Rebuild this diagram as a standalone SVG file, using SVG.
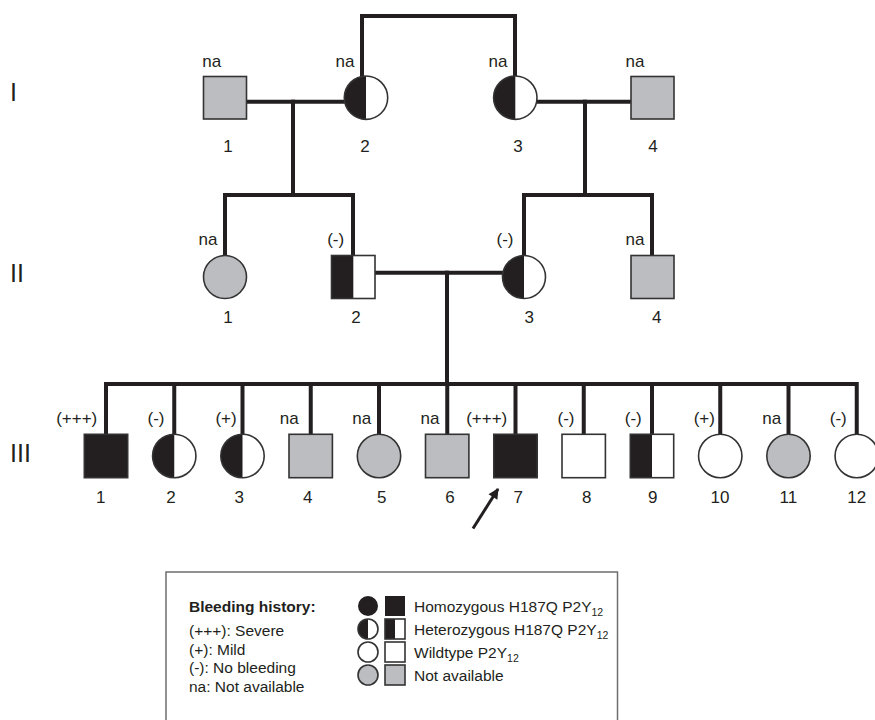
<svg xmlns="http://www.w3.org/2000/svg" width="875" height="720" viewBox="0 0 875 720">
<defs>
<style>
text{font-family:"Liberation Sans",Arial,Helvetica,sans-serif;fill:#231f20}
.lbl{font-size:17px;text-anchor:middle}
.gen{font-size:25px}
.leg{font-size:15.5px}
.b{font-weight:bold}
.ln{fill:none;stroke:#231f20;stroke-width:4;stroke-linecap:square}
.sh{stroke:#333;stroke-width:1.6}
.gray{fill:#bcbdc0}
.white{fill:#fff}
.black{fill:#231f20}
.half{fill:#231f20;stroke:none}
.out{fill:none;stroke:#333;stroke-width:1.6}
</style>
<marker id="ah" viewBox="0 0 10 10" refX="9" refY="5" markerWidth="4" markerHeight="3.5" orient="auto">
<path d="M0,0 L10,5 L0,10 Z" fill="#231f20"/>
</marker>
</defs>
<rect width="875" height="720" fill="#fff"/>

<!-- generation labels -->
<text class="gen" x="10" y="101">I</text>
<text class="gen" x="10" y="282">II</text>
<text class="gen" x="10" y="462">III</text>

<!-- connectors -->
<g id="connectors">
<path class="ln" d="M362,77 V16 H515 V77"/>
<path class="ln" d="M246.5,101.7 H344.5"/>
<path class="ln" d="M293,101.7 V195"/>
<path class="ln" d="M537,101.7 H631"/>
<path class="ln" d="M585,101.7 V195"/>
<path class="ln" d="M225,255.5 V195 H353 V255.5"/>
<path class="ln" d="M524,255.5 V195 H652 V255.5"/>
<path class="ln" d="M375,272.7 H502.5"/>
<path class="ln" d="M447,272.7 V384"/>
<path class="ln" d="M106,434.3 V384 H856.75 V434.3"/>
<path class="ln" d="M174.25,384 V434.3 M242.5,384 V434.3 M310.75,384 V434.3 M379,384 V434.3 M447.25,384 V434.3 M515.5,384 V434.3 M583.75,384 V434.3 M652,384 V434.3 M720.25,384 V434.3 M788.5,384 V434.3"/>
<line x1="473" y1="528.5" x2="498" y2="489" stroke="#231f20" stroke-width="3" marker-end="url(#ah)"/>
</g>

<!-- Generation I -->
<g id="I-1"><rect class="sh gray" x="203.5" y="76.5" width="43" height="42.5"/><text class="lbl" x="211.7" y="66.5">na</text><text class="lbl" x="228" y="151.5">1</text></g>
<g id="I-2"><circle class="white" cx="366" cy="97.7" r="21.7"/><path class="half" d="M366,76 A21.7,21.7 0 0 0 366,119.4 Z"/><circle class="out" cx="366" cy="97.7" r="21.7"/><text class="lbl" x="345" y="66.5">na</text><text class="lbl" x="365" y="151.5">2</text></g>
<g id="I-3"><circle class="white" cx="515.3" cy="97.7" r="21.7"/><path class="half" d="M515.3,76 A21.7,21.7 0 0 0 515.3,119.4 Z"/><circle class="out" cx="515.3" cy="97.7" r="21.7"/><text class="lbl" x="498" y="66.5">na</text><text class="lbl" x="518" y="151.5">3</text></g>
<g id="I-4"><rect class="sh gray" x="631" y="76.5" width="43" height="42.5"/><text class="lbl" x="635" y="66.5">na</text><text class="lbl" x="653" y="151.5">4</text></g>

<!-- Generation II -->
<g id="II-1"><circle class="sh gray" cx="225" cy="277" r="21.5"/><text class="lbl" x="208" y="245">na</text><text class="lbl" x="228" y="323">1</text></g>
<g id="II-2"><rect class="white" x="331.5" y="255.5" width="43.5" height="43"/><rect class="half" x="331.5" y="255.5" width="21.8" height="43"/><rect class="out" x="331.5" y="255.5" width="43.5" height="43"/><text class="lbl" x="335.7" y="245">(-)</text><text class="lbl" x="356" y="323">2</text></g>
<g id="II-3"><circle class="white" cx="524" cy="277" r="21.5"/><path class="half" d="M524,255.5 A21.5,21.5 0 0 0 524,298.5 Z"/><circle class="out" cx="524" cy="277" r="21.5"/><text class="lbl" x="505" y="245">(-)</text><text class="lbl" x="529.3" y="323">3</text></g>
<g id="II-4"><rect class="sh gray" x="631" y="255.5" width="43" height="43"/><text class="lbl" x="635" y="245">na</text><text class="lbl" x="656.7" y="323">4</text></g>

<!-- Generation III -->
<g id="III-1"><rect class="sh black" x="84.3" y="434.3" width="43.4" height="43.4"/><text class="lbl" x="76.7" y="424">(+++)</text><text class="lbl" x="100.7" y="502.5">1</text></g>
<g id="III-2"><circle class="white" cx="174.25" cy="456" r="21.7"/><path class="half" d="M174.25,434.3 A21.7,21.7 0 0 0 174.25,477.7 Z"/><circle class="out" cx="174.25" cy="456" r="21.7"/><text class="lbl" x="156" y="424">(-)</text><text class="lbl" x="171" y="502.5">2</text></g>
<g id="III-3"><circle class="white" cx="242.5" cy="456" r="21.7"/><path class="half" d="M242.5,434.3 A21.7,21.7 0 0 0 242.5,477.7 Z"/><circle class="out" cx="242.5" cy="456" r="21.7"/><text class="lbl" x="226" y="424">(+)</text><text class="lbl" x="239.3" y="502.5">3</text></g>
<g id="III-4"><rect class="sh gray" x="289" y="434.3" width="43.4" height="43.4"/><text class="lbl" x="289.3" y="424">na</text><text class="lbl" x="307.7" y="502.5">4</text></g>
<g id="III-5"><circle class="sh gray" cx="379" cy="456" r="21.7"/><text class="lbl" x="361.7" y="424">na</text><text class="lbl" x="381.7" y="502.5">5</text></g>
<g id="III-6"><rect class="sh gray" x="425.5" y="434.3" width="43.4" height="43.4"/><text class="lbl" x="430" y="424">na</text><text class="lbl" x="450" y="502.5">6</text></g>
<g id="III-7"><rect class="sh black" x="493.8" y="434.3" width="43.4" height="43.4"/><text class="lbl" x="486.7" y="424">(+++)</text><text class="lbl" x="518.3" y="502.5">7</text></g>
<g id="III-8"><rect class="sh white" x="562" y="434.3" width="43.4" height="43.4"/><text class="lbl" x="566" y="424">(-)</text><text class="lbl" x="586.7" y="502.5">8</text></g>
<g id="III-9"><rect class="white" x="630.3" y="434.3" width="43.4" height="43.4"/><rect class="half" x="630.3" y="434.3" width="21.7" height="43.4"/><rect class="out" x="630.3" y="434.3" width="43.4" height="43.4"/><text class="lbl" x="633.3" y="424">(-)</text><text class="lbl" x="652.7" y="502.5">9</text></g>
<g id="III-10"><circle class="sh white" cx="720.25" cy="456" r="21.7"/><text class="lbl" x="704.3" y="424">(+)</text><text class="lbl" x="720" y="502.5">10</text></g>
<g id="III-11"><circle class="sh gray" cx="788.5" cy="456" r="21.7"/><text class="lbl" x="771.7" y="424">na</text><text class="lbl" x="788.3" y="502.5">11</text></g>
<g id="III-12"><circle class="sh white" cx="856.75" cy="456" r="21.7"/><text class="lbl" x="838.3" y="424">(-)</text><text class="lbl" x="856.7" y="502.5">12</text></g>

<!-- Legend -->
<g id="legend">
<rect x="166" y="572" width="451.5" height="160" fill="#fff" stroke="#6d6e70" stroke-width="1.5"/>
<text class="leg b" x="189" y="612">Bleeding history:</text>
<text class="leg" x="189" y="636">(+++): Severe</text>
<text class="leg" x="189" y="654.5">(+): Mild</text>
<text class="leg" x="189" y="673">(-): No bleeding</text>
<text class="leg" x="189" y="691.5">na: Not available</text>

<circle class="black" cx="368" cy="606" r="10"/>
<rect class="black" x="385" y="596" width="20" height="20"/>
<text class="leg" x="414" y="611.5">Homozygous H187Q P2Y<tspan font-size="10.5" dy="4">12</tspan></text>

<circle class="white" cx="368" cy="629" r="10"/><path class="half" d="M368,619 A10,10 0 0 0 368,639 Z"/><circle class="out" cx="368" cy="629" r="10"/>
<rect class="white" x="385" y="619" width="20" height="20"/><rect class="half" x="385" y="619" width="10" height="20"/><rect class="out" x="385" y="619" width="20" height="20"/>
<text class="leg" x="414" y="634.5">Heterozygous H187Q P2Y<tspan font-size="10.5" dy="4">12</tspan></text>

<circle class="sh white" cx="368" cy="652" r="10"/>
<rect class="sh white" x="385" y="642" width="20" height="20"/>
<text class="leg" x="414" y="657.5">Wildtype P2Y<tspan font-size="10.5" dy="4">12</tspan></text>

<circle class="sh gray" cx="368" cy="675" r="10"/>
<rect class="sh gray" x="385" y="665" width="20" height="20"/>
<text class="leg" x="414" y="680.5">Not available</text>
</g>
</svg>
